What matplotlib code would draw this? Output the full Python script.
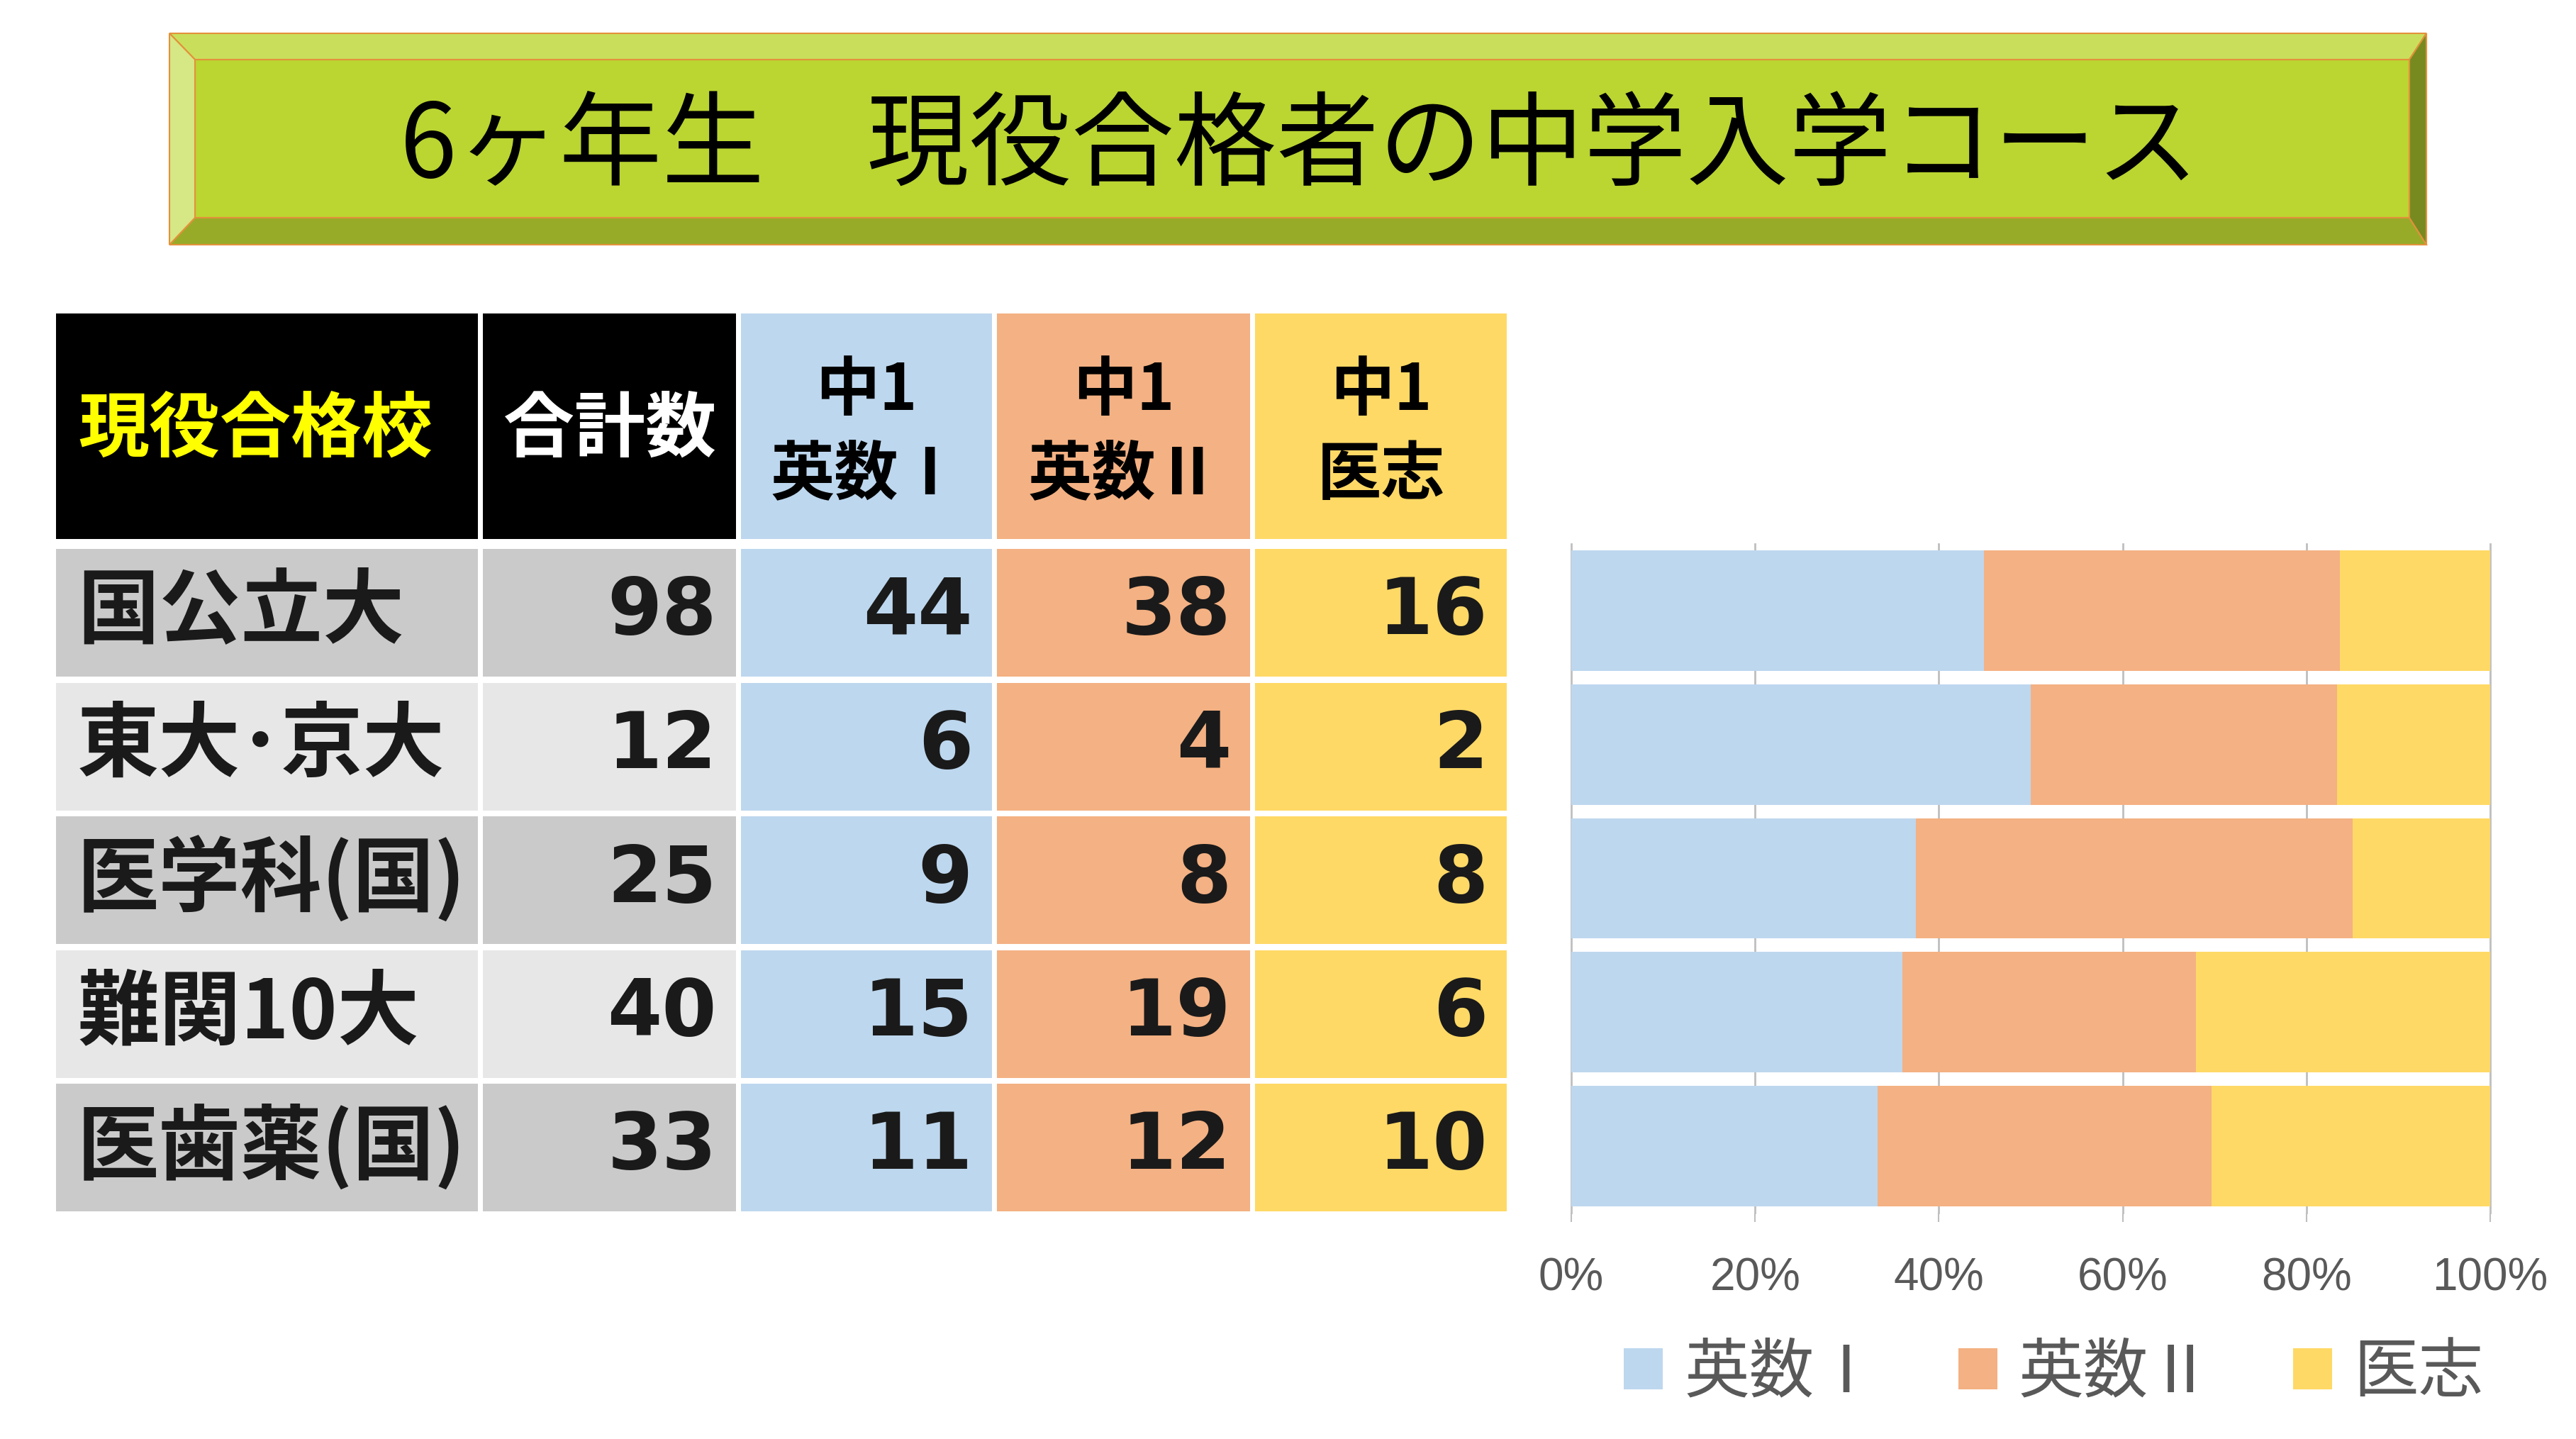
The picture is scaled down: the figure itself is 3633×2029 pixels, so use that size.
import numpy as np
import matplotlib
matplotlib.use("Agg")
import matplotlib.pyplot as plt
from matplotlib.patches import Polygon, Rectangle, Patch
from matplotlib import font_manager as fm

# ---------------- data ----------------
title = "6ヶ年生\u3000現役合格者の中学入学コース"
header_labels = ["現役合格校", "合計数"]
course_top = ["中1", "中1", "中1"]
courses = ["英数Ⅰ", "英数Ⅱ", "医志"]
schools = ["国公立大", "東大･京大", "医学科(国)", "難関10大", "医歯薬(国)"]
totals = [98, 12, 25, 40, 33]
eisu1 = [44, 6, 9, 15, 11]
eisu2 = [38, 4, 8, 19, 12]
ishi = [16, 2, 8, 6, 10]
# order of schools in the stacked 100% bar chart (top to bottom)
chart_order = [0, 1, 3, 2, 4]
xtick_labels = ["0%", "20%", "40%", "60%", "80%", "100%"]

# ---------------- style ----------------
W, H = 3633, 2029
JP = "Noto Sans CJK JP"
names = {f.name for f in fm.fontManager.ttflist}
TICKFONT = "Liberation Sans Narrow" if "Liberation Sans Narrow" in names else "Liberation Sans"
plt.rcParams["font.family"] = [JP, "DejaVu Sans"]

c_blue, c_orange, c_yellow = "#BDD7EE", "#F4B183", "#FFD966"
course_colors = [c_blue, c_orange, c_yellow]
gray_dark, gray_light = "#CACACA", "#E7E7E7"

fig = plt.figure(figsize=(W / 100, H / 100), dpi=100)
fig.patch.set_facecolor("white")
bg = fig.add_axes([0, 0, 1, 1])
bg.set_xlim(0, W)
bg.set_ylim(H, 0)
bg.axis("off")

# ---------------- title banner (bevel) ----------------
ox0, ox1, oy0, oy1 = 239, 3422, 47, 345
ix0, ix1, iy0, iy1 = 275, 3398, 84, 307
edge = "#E3913A"
bevel = [
    ([(ix0, iy0), (ix1, iy0), (ix1, iy1), (ix0, iy1)], "#BBD531"),
    ([(ox0, oy0), (ox1, oy0), (ix1, iy0), (ix0, iy0)], "#C9DF5C"),
    ([(ox0, oy1), (ox1, oy1), (ix1, iy1), (ix0, iy1)], "#98AB28"),
    ([(ox0, oy0), (ix0, iy0), (ix0, iy1), (ox0, oy1)], "#D6E785"),
    ([(ox1, oy0), (ix1, iy0), (ix1, iy1), (ox1, oy1)], "#778A1F"),
]
for pts, col in bevel:
    bg.add_patch(Polygon(pts, closed=True, facecolor=col, edgecolor=edge, lw=1.5))
bg.text((ox0 + ox1) / 2 + 2, 208, title, ha="center", va="center",
        fontsize=104, family=[JP, "DejaVu Sans"], color="black")

# ---------------- table ----------------
col_x = [(79, 674), (681, 1038), (1045, 1399), (1406, 1763), (1770, 2125)]
hy0, hy1 = 442, 760
row_top0, row_pitch, row_h = 774, 188.5, 180

# header
for j, (x0, x1) in enumerate(col_x):
    fc = "black" if j < 2 else course_colors[j - 2]
    bg.add_patch(Rectangle((x0, hy0), x1 - x0, hy1 - hy0, facecolor=fc, edgecolor="none"))
bg.text(360, 606, header_labels[0], ha="center", va="center",
        fontsize=72, fontweight="bold", color="#FFFF00")
bg.text(sum(col_x[1]) / 2, 606, header_labels[1], ha="center", va="center",
        fontsize=72, fontweight="bold", color="white")
for k in range(3):
    cx = sum(col_x[k + 2]) / 2
    bg.text(cx, 551, course_top[k], ha="center", va="center",
            fontsize=65, fontweight="bold", color="black")
    bg.text(cx, 670, courses[k], ha="center", va="center",
            fontsize=65, fontweight="bold", color="black")

# body
for i in range(len(schools)):
    y0 = row_top0 + i * row_pitch
    yc = y0 + row_h / 2
    g = gray_dark if i % 2 == 0 else gray_light
    fills = [g, g] + course_colors
    for j, (x0, x1) in enumerate(col_x):
        bg.add_patch(Rectangle((x0, y0), x1 - x0, row_h, facecolor=fills[j], edgecolor="none"))
    bg.text(col_x[0][0] + 30, yc, schools[i], ha="left", va="center",
            fontsize=83, fontweight="bold", color="#1a1a1a")
    vals = [totals[i], eisu1[i], eisu2[i], ishi[i]]
    for j, v in enumerate(vals):
        bg.text(col_x[j + 1][1] - 27, yc, str(v), ha="right", va="center",
                fontsize=80, fontweight="bold", family="DejaVu Sans", color="#1a1a1a")

# ---------------- stacked 100% bar chart ----------------
ax = fig.add_axes([2216 / W, 1 - 1710 / H, (3512 - 2216) / W, (1710 - 767) / H])
tot = np.array(totals, dtype=float)[chart_order]
series = [np.array(s, dtype=float)[chart_order] / tot for s in (eisu1, eisu2, ishi)]
ypos = np.arange(len(chart_order))
left = np.zeros(len(chart_order))
for s, col, lab in zip(series, course_colors, courses):
    ax.barh(ypos, s, left=left, height=0.9, color=col, label=lab, zorder=2)
    left += s
ax.set_xlim(0, 1)
ax.set_ylim(len(chart_order) - 0.5, -0.5)
ax.set_xticks(np.linspace(0, 1, 6))
ax.set_xticklabels(xtick_labels, family=TICKFONT, fontsize=46, color="#595959")
ax.set_yticks([])
ax.grid(axis="x", color="#BFBFBF", lw=2, zorder=0)
ax.set_axisbelow(True)
for sp in ax.spines.values():
    sp.set_visible(False)
ax.tick_params(axis="x", length=9, width=1.5, color="#BFBFBF", pad=36)
for gl in ax.get_xgridlines():
    gl.set_clip_on(False)

handles = [Patch(facecolor=c, edgecolor="none") for c in course_colors]
leg = fig.legend(handles, courses, loc="center", bbox_to_anchor=(2896 / W, 1 - 1936 / H),
                 ncol=3, frameon=False, prop=fm.FontProperties(family=JP, size=66),
                 handlelength=0.6, handleheight=0.6, handletextpad=0.33,
                 columnspacing=1.22, labelcolor="#595959")

fig.savefig("out.png", dpi=100, facecolor="white")
